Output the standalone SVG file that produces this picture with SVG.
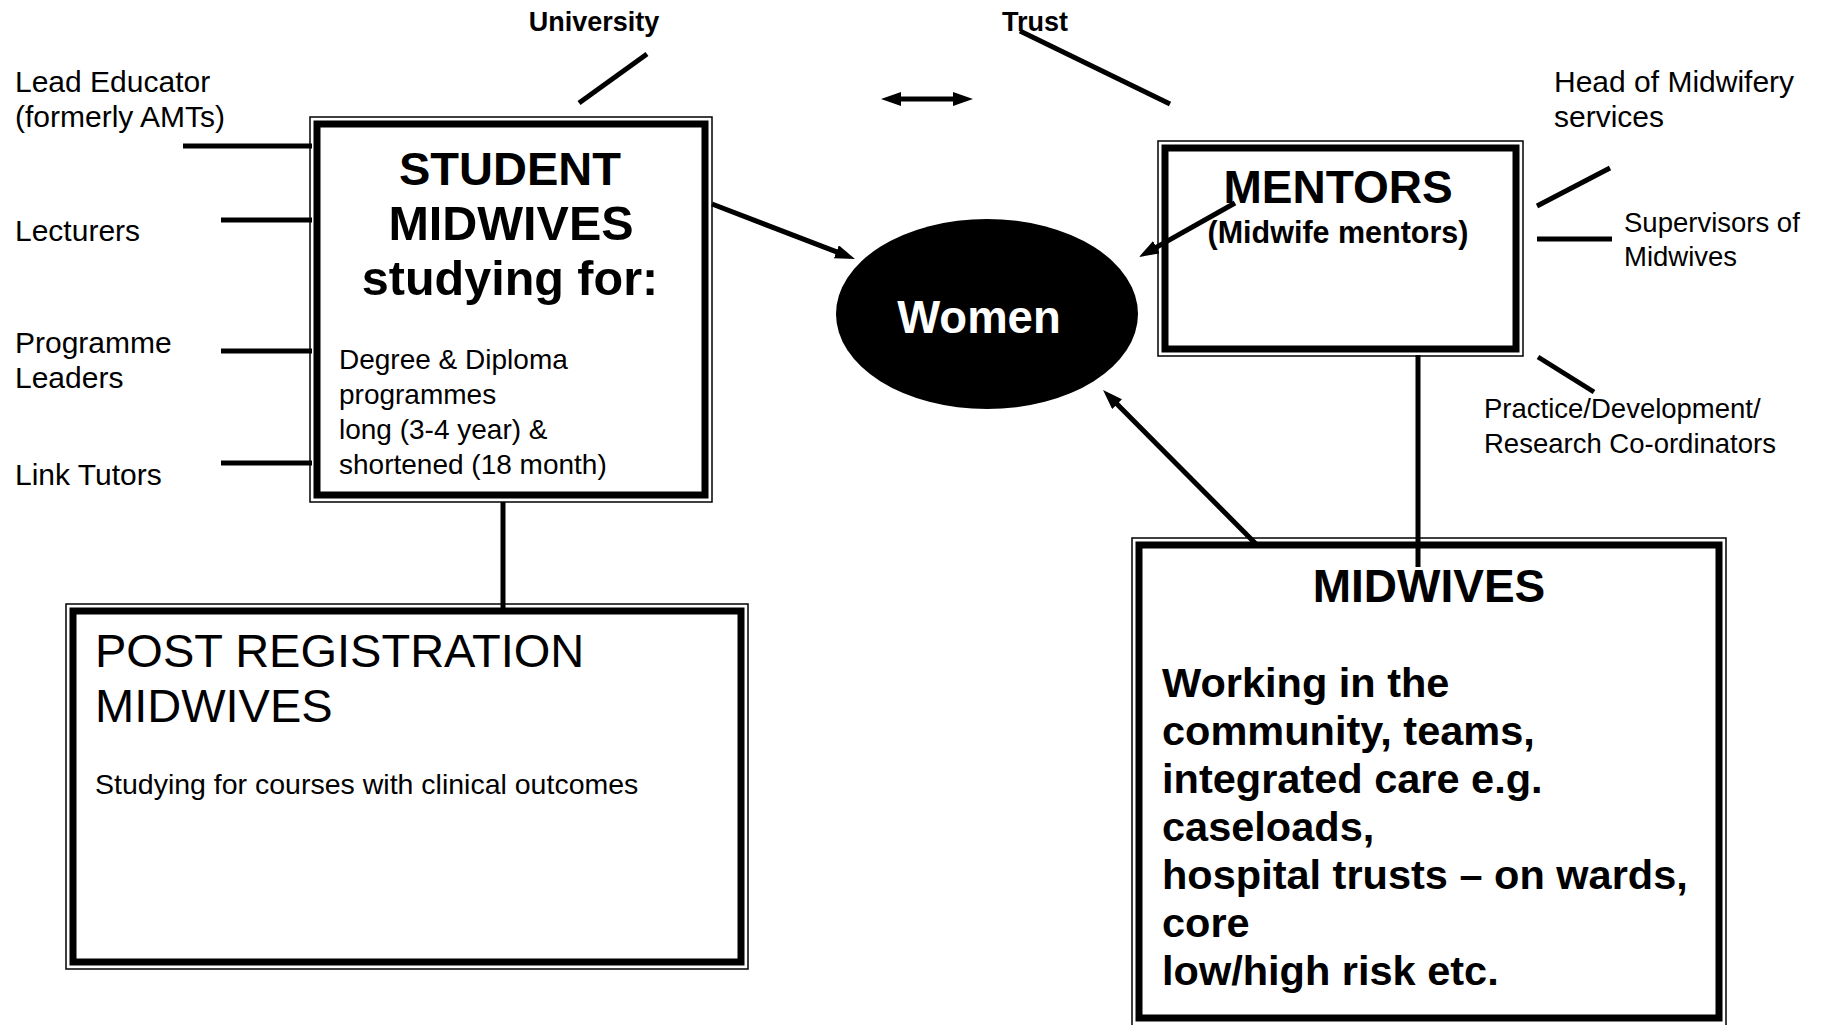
<svg xmlns="http://www.w3.org/2000/svg" width="1827" height="1025" viewBox="0 0 1827 1025">
<defs>
<style>
text{font-family:"Liberation Sans",Arial,sans-serif;fill:#000}
.b{font-weight:bold}
.c{text-anchor:middle}
.outer{fill:none;stroke:#000;stroke-width:1.5}
.inner{fill:none;stroke:#000;stroke-width:7}
.ln{stroke:#000;stroke-width:5;fill:none}
.lbl{font-size:30px}
.sm{font-size:27.5px}
</style>
<marker id="ah" viewBox="0 0 20 14" refX="8" refY="7" markerWidth="20" markerHeight="14" markerUnits="userSpaceOnUse" orient="auto-start-reverse"><path d="M0,0 L20,7 L0,14 z" fill="#000"/></marker>
</defs>
<rect width="1827" height="1025" fill="#fff"/>

<g id="connectors">
<line class="ln" x1="183" y1="146" x2="312" y2="146"/>
<line class="ln" x1="221" y1="220" x2="312" y2="220"/>
<line class="ln" x1="221" y1="351" x2="312" y2="351"/>
<line class="ln" x1="221" y1="463" x2="312" y2="463"/>
<line class="ln" x1="579" y1="103" x2="647" y2="54"/>
<line class="ln" x1="1020" y1="31" x2="1170" y2="104"/>
<line class="ln" x1="893" y1="99" x2="961" y2="99" marker-start="url(#ah)" marker-end="url(#ah)"/>
<line class="ln" x1="712" y1="204" x2="843.8" y2="254.7" marker-end="url(#ah)"/>
<line class="ln" x1="1235" y1="203" x2="1149.5" y2="251.1" marker-end="url(#ah)"/>
<line class="ln" x1="1256" y1="544" x2="1111.5" y2="398.5" marker-end="url(#ah)"/>
<line class="ln" x1="1537" y1="206" x2="1610" y2="168"/>
<line class="ln" x1="1537" y1="239" x2="1612" y2="239"/>
<line class="ln" x1="1538" y1="357" x2="1594" y2="392"/>
<line class="ln" x1="503" y1="502" x2="503" y2="608"/>
<line class="ln" x1="1418" y1="355" x2="1418" y2="567"/>
</g>

<g id="university"><text class="b c" x="594" y="31" font-size="27">University</text></g>
<g id="trust"><text class="b" x="1002" y="31" font-size="27">Trust</text></g>

<g id="lead-educator"><text class="lbl" x="15" y="92">Lead Educator</text><text class="lbl" x="15" y="127">(formerly AMTs)</text></g>
<g id="lecturers"><text class="lbl" x="15" y="241">Lecturers</text></g>
<g id="programme-leaders"><text class="lbl" x="15" y="353">Programme</text><text class="lbl" x="15" y="388">Leaders</text></g>
<g id="link-tutors"><text class="lbl" x="15" y="485">Link Tutors</text></g>

<g id="head-midwifery"><text class="lbl" x="1554" y="92" font-size="30.5">Head of Midwifery</text><text class="lbl" x="1554" y="127">services</text></g>
<g id="supervisors"><text class="sm" x="1624" y="232">Supervisors of</text><text class="sm" x="1624" y="266">Midwives</text></g>
<g id="practice"><text class="sm" x="1484" y="418">Practice/Development/</text><text class="sm" x="1484" y="453">Research Co-ordinators</text></g>

<g id="student-midwives">
<rect class="outer" x="310" y="117" width="402" height="385"/>
<rect class="inner" x="317" y="124" width="388" height="371"/>
<text class="b c" x="510" y="185" font-size="47">STUDENT</text>
<text class="b c" x="511" y="240" font-size="48.5">MIDWIVES</text>
<text class="b c" x="510" y="295" font-size="48.5">studying for:</text>
<text x="339" y="369" font-size="28">Degree &amp; Diploma</text>
<text x="339" y="404" font-size="28">programmes</text>
<text x="339" y="439" font-size="28">long (3-4 year) &amp;</text>
<text x="339" y="474" font-size="28">shortened (18 month)</text>
</g>

<g id="women">
<ellipse cx="987" cy="314" rx="151" ry="95" fill="#000"/>
<text class="b c" x="979" y="333" font-size="45.5" style="fill:#fff">Women</text>
</g>

<g id="mentors">
<rect class="outer" x="1158" y="141" width="365" height="215"/>
<rect class="inner" x="1165" y="148" width="351" height="201"/>
<text class="b c" x="1338" y="203" font-size="46">MENTORS</text>
<text class="b c" x="1338" y="243" font-size="30.5">(Midwife mentors)</text>
</g>

<g id="post-registration">
<rect class="outer" x="66" y="604" width="682" height="365"/>
<rect class="inner" x="73" y="611" width="668" height="351"/>
<text x="95" y="667" font-size="47">POST REGISTRATION</text>
<text x="95" y="722" font-size="47">MIDWIVES</text>
<text x="95" y="794" font-size="28.5">Studying for courses with clinical outcomes</text>
</g>

<g id="midwives">
<rect class="outer" x="1132" y="538" width="594" height="490"/>
<rect class="inner" x="1139" y="545" width="580" height="473"/>
<text class="b c" x="1429" y="602" font-size="46">MIDWIVES</text>
<text class="b" x="1162" y="697" font-size="41.5">Working in the</text>
<text class="b" x="1162" y="745" font-size="41.5">community, teams,</text>
<text class="b" x="1162" y="793" font-size="41.5">integrated care e.g.</text>
<text class="b" x="1162" y="841" font-size="41.5">caseloads,</text>
<text class="b" x="1162" y="889" font-size="41.5">hospital trusts – on wards,</text>
<text class="b" x="1162" y="937" font-size="41.5">core</text>
<text class="b" x="1162" y="985" font-size="41.5">low/high risk etc.</text>
</g>
</svg>
